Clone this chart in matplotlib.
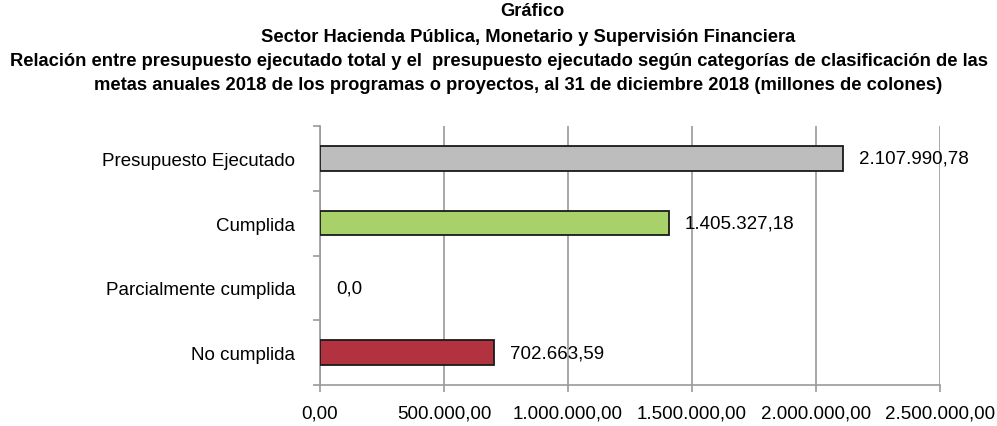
import matplotlib
matplotlib.use("Agg")
import matplotlib.pyplot as plt
import numpy as np

categories = ["Presupuesto Ejecutado", "Cumplida", "Parcialmente cumplida", "No cumplida"]
values = [2107990.78, 1405327.18, 0.0, 702663.59]
value_labels = ["2.107.990,78", "1.405.327,18", "0,0", "702.663,59"]
bar_colors = ["#bdbdbd", "#a8d16a", "#ffffff", "#b3323f"]
xticks = [0, 500000, 1000000, 1500000, 2000000, 2500000]
xtick_labels = ["0,00", "500.000,00", "1.000.000,00", "1.500.000,00", "2.000.000,00", "2.500.000,00"]
title_lines = [
    "Gráfico",
    "Sector Hacienda Pública, Monetario y Supervisión Financiera",
    "Relación entre presupuesto ejecutado total y el  presupuesto ejecutado según categorías de clasificación de las",
    "metas anuales 2018 de los programas o proyectos, al 31 de diciembre 2018 (millones de colones)",
]

plt.rcParams["font.family"] = ["Liberation Sans", "DejaVu Sans"]

fig = plt.figure(figsize=(9.97, 4.27), dpi=100)
ax = fig.add_axes([320/997, 1-386/427, (940-320)/997, (386-127)/427])

y = np.arange(len(categories))
lws = [1.3 if v > 0 else 0 for v in values]
ax.barh(y, values, height=0.38, color=bar_colors, edgecolor="#1a1a1a", linewidth=lws, zorder=3)
ax.set_xlim(0, 2500000)
ax.set_ylim(len(categories) - 0.5, -0.5)

ax.set_xticks(xticks)
ax.set_xticklabels(xtick_labels, fontsize=13.5)
ax.set_yticks(y)
ax.set_yticklabels(categories, fontsize=13.5)
ax.tick_params(axis="y", which="major", length=0, pad=18)
ax.set_yticks(np.arange(-0.5, len(categories) + 0.5, 1), minor=True)
ax.tick_params(axis="y", which="minor", length=5, color="#999999", width=1.2)
ax.tick_params(axis="x", length=5, color="#999999", width=1.2, pad=9)

ax.grid(axis="x", color="#9a9a9a", linewidth=1.2, zorder=0)
for s in ["top", "right"]:
    ax.spines[s].set_visible(False)
for s in ["left", "bottom"]:
    ax.spines[s].set_color("#9a9a9a")
    ax.spines[s].set_linewidth(1.2)

for yi, v, lab in zip(y, values, value_labels):
    ax.annotate(lab, (v, yi), xytext=(16, 0), textcoords="offset pixels",
                va="center", ha="left", fontsize=13.5, zorder=4)

ys = [12, 37, 62, 86]
xs = [532, 528, 499, 518]
for t, xx, yy in zip(title_lines, xs, ys):
    fig.text(xx/997, 1 - yy/427, t, ha="center", va="center", fontsize=13.2, fontweight="bold")

fig.savefig("out.png", dpi=100)
